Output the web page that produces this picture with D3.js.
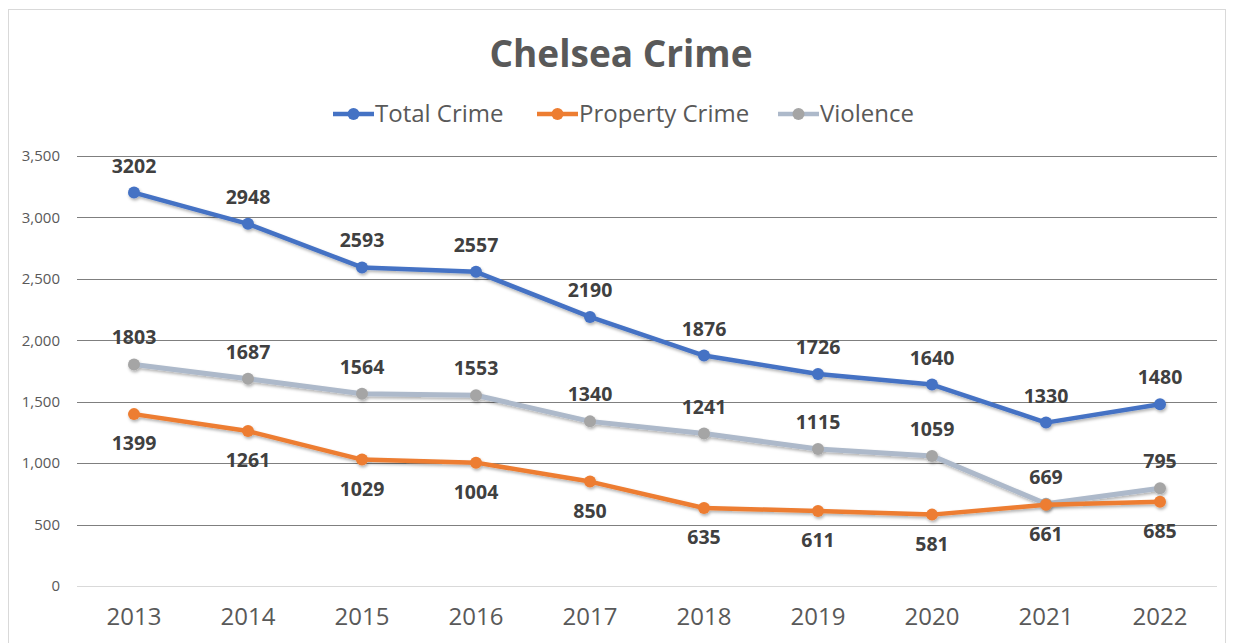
<!DOCTYPE html>
<html>
<head>
<meta charset="utf-8">
<script src="https://cdn.jsdelivr.net/npm/d3@7"></script>
<style>
  body { margin: 0; background: #fff; }
  svg { font-family: "Open Sans", Lato, sans-serif; }
</style>
</head>
<body>
<div id="chart"></div>
<script>
var years = ["2013", "2014", "2015", "2016", "2017", "2018", "2019", "2020", "2021", "2022"];
var totalCrime = [3202, 2948, 2593, 2557, 2190, 1876, 1726, 1640, 1330, 1480];
var propertyCrime = [1399, 1261, 1029, 1004, 850, 635, 611, 581, 661, 685];
var violence = [1803, 1687, 1564, 1553, 1340, 1241, 1115, 1059, 669, 795];
var yTicks = [0, 500, 1000, 1500, 2000, 2500, 3000, 3500];

var svgWidth = 1233;
var svgHeight = 643;

var margin = { top: 156, right: 16, bottom: 57, left: 77 };
var width = svgWidth - margin.left - margin.right;
var height = svgHeight - margin.top - margin.bottom;

var svg = d3.select("#chart")
  .append("svg")
  .attr("width", svgWidth)
  .attr("height", svgHeight);

// drop shadow like the office chart
var defs = svg.append("defs");
var filter = defs.append("filter").attr("id", "shadow")
  .attr("x", "-10%").attr("y", "-10%").attr("width", "120%").attr("height", "130%");
filter.append("feDropShadow")
  .attr("dx", 1).attr("dy", 2).attr("stdDeviation", 1.5)
  .attr("flood-color", "#000").attr("flood-opacity", 0.3);

// chart frame
svg.append("rect")
  .attr("x", 8.5).attr("y", 9.5)
  .attr("width", 1217).attr("height", 650)
  .attr("fill", "none")
  .attr("stroke", "#d9d9d9");

var chartGroup = svg.append("g")
  .attr("transform", `translate(${margin.left}, ${margin.top})`);

var xScale = d3.scaleBand()
  .domain(years)
  .range([0, width]);

var yScale = d3.scaleLinear()
  .domain([0, 3500])
  .range([height, 0]);

// gridlines
chartGroup.selectAll(".grid")
  .data(yTicks)
  .enter()
  .append("line")
  .attr("x1", 0)
  .attr("x2", width)
  .attr("y1", d => Math.round(yScale(d)) + 0.5)
  .attr("y2", d => Math.round(yScale(d)) + 0.5)
  .attr("stroke", d => d === 0 ? "#d9d9d9" : "#7f7f7f")
  .attr("stroke-width", 1.2);

// y axis labels
var leftAxis = d3.axisLeft(yScale)
  .tickValues(yTicks)
  .tickFormat(d3.format(","))
  .tickSize(0)
  .tickPadding(17);

var yAxisG = chartGroup.append("g").call(leftAxis);
yAxisG.select(".domain").remove();
yAxisG.selectAll("text")
  .attr("font-family", "'Open Sans', sans-serif")
  .attr("font-size", 15)
  .attr("fill", "#595959");

// x axis labels
var bottomAxis = d3.axisBottom(xScale).tickSize(0).tickPadding(22);
var xAxisG = chartGroup.append("g")
  .attr("transform", `translate(0, ${height})`)
  .call(bottomAxis);
xAxisG.select(".domain").remove();
xAxisG.selectAll("text")
  .attr("font-family", "'Open Sans', sans-serif")
  .attr("font-size", 24)
  .attr("fill", "#595959");

var series = [
  { name: "Total Crime", values: totalCrime, line: "#4472c4", marker: "#4472c4", labelPos: "above" },
  { name: "Property Crime", values: propertyCrime, line: "#ed7d31", marker: "#ed7d31", labelPos: "below" },
  { name: "Violence", values: violence, line: "#adb9ca", marker: "#a5a5a5", labelPos: "above" }
];

var cx = d => xScale(d) + xScale.bandwidth() / 2;

var lineGen = d3.line()
  .x((d, i) => cx(years[i]))
  .y(d => yScale(d));

// draw in reverse so total crime is on top
series.slice().reverse().forEach(function(s) {
  var g = chartGroup.append("g").attr("filter", "url(#shadow)");
  g.append("path")
    .datum(s.values)
    .attr("d", lineGen)
    .attr("fill", "none")
    .attr("stroke", s.line)
    .attr("stroke-width", s.name === "Violence" ? 5 : 4.5)
    .attr("stroke-linejoin", "round");
  g.selectAll("circle")
    .data(s.values)
    .enter()
    .append("circle")
    .attr("cx", (d, i) => cx(years[i]))
    .attr("cy", d => yScale(d))
    .attr("r", 6)
    .attr("fill", s.marker);
});

// data labels
series.forEach(function(s) {
  chartGroup.selectAll(null)
    .data(s.values)
    .enter()
    .append("text")
    .attr("x", (d, i) => cx(years[i]))
    .attr("y", d => s.labelPos === "above" ? yScale(d) - 20 : yScale(d) + 36)
    .attr("text-anchor", "middle")
    .attr("font-size", 19.5)
    .attr("font-weight", "bold")
    .attr("fill", "#404040")
    .text(d => d);
});

// title
svg.append("text")
  .attr("x", 621)
  .attr("y", 67)
  .attr("text-anchor", "middle")
  .attr("font-size", 37)
  .attr("font-weight", "bold")
  .attr("fill", "#595959")
  .text("Chelsea Crime");

// legend
var legendItems = [
  { name: "Total Crime", x: 333, line: "#4472c4", marker: "#4472c4" },
  { name: "Property Crime", x: 537, line: "#ed7d31", marker: "#ed7d31" },
  { name: "Violence", x: 778, line: "#adb9ca", marker: "#a5a5a5" }
];
var legend = svg.append("g").attr("transform", "translate(0, 114)");
legendItems.forEach(function(l) {
  var item = legend.append("g").attr("transform", `translate(${l.x}, 0)`);
  item.append("line")
    .attr("x1", 0).attr("x2", 41)
    .attr("stroke", l.line).attr("stroke-width", 4.5);
  item.append("circle")
    .attr("cx", 20.5).attr("r", 6).attr("fill", l.marker);
  item.append("text")
    .attr("x", 42)
    .attr("dy", "0.35em")
    .attr("font-size", 24)
    .attr("fill", "#595959")
    .text(l.name);
});
</script>
</body>
</html>
